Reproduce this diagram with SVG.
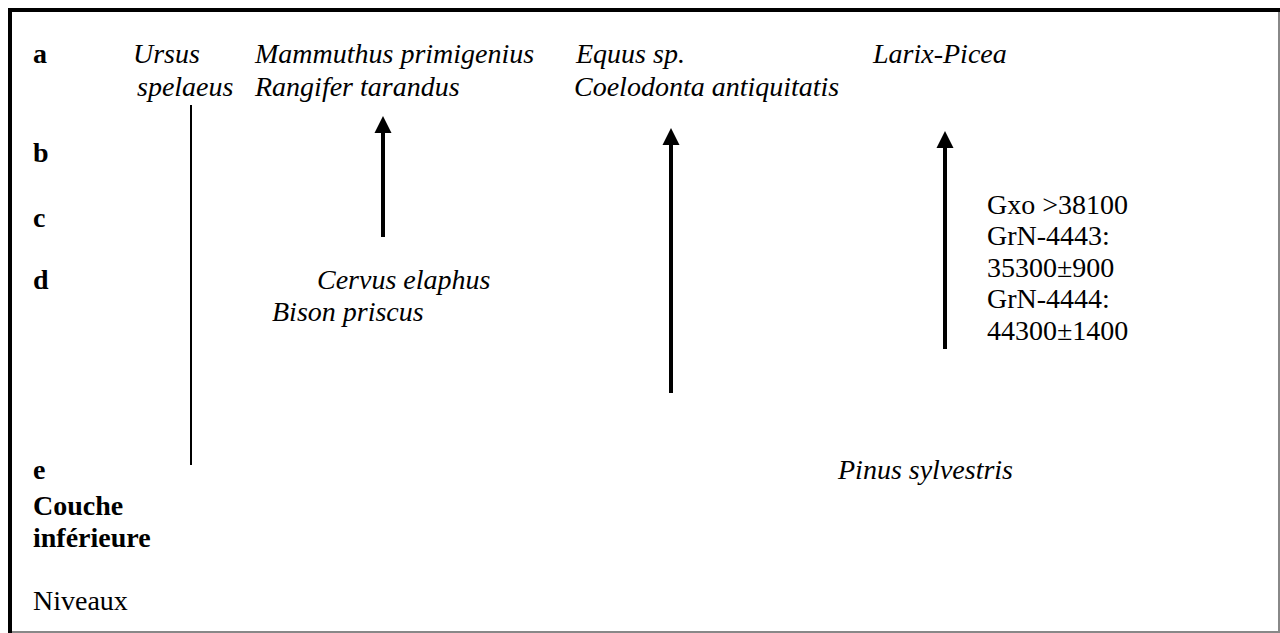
<svg xmlns="http://www.w3.org/2000/svg" width="1280" height="633" viewBox="0 0 1280 633">
<defs>
<style>
text{font-family:'Liberation Serif','Times New Roman',Times,serif;font-size:28px;fill:#000}
.b{font-weight:bold}
.i{font-style:italic}
.shaft{stroke:#000;stroke-width:4;fill:none}
</style>
</defs>
<rect x="0" y="0" width="1280" height="633" fill="#fff"/>
<g id="frame">
<line x1="8" y1="10" x2="1280" y2="10" stroke="#000" stroke-width="4"/>
<line x1="10" y1="8" x2="10" y2="633" stroke="#000" stroke-width="4"/>
<line x1="1279" y1="12" x2="1279" y2="633" stroke="#888" stroke-width="2"/>
<line x1="12" y1="632" x2="1280" y2="632" stroke="#888" stroke-width="2"/>
</g>
<g id="levels">
<text class="b" x="33" y="63">a</text>
<text class="b" x="33" y="162">b</text>
<text class="b" x="33" y="227">c</text>
<text class="b" x="33" y="289">d</text>
<text class="b" x="33" y="479">e</text>
<text class="b" x="33" y="515">Couche</text>
<text class="b" x="33" y="547">inférieure</text>
<text x="33" y="610">Niveaux</text>
</g>
<g id="ursus"><text class="i" x="133" y="63">Ursus</text><text class="i" x="137" y="96">spelaeus</text></g>
<g id="mammuthus"><text class="i" x="255" y="63">Mammuthus primigenius</text><text class="i" x="255" y="96">Rangifer tarandus</text></g>
<g id="equus"><text class="i" x="576" y="63">Equus sp.</text><text class="i" x="574" y="96">Coelodonta antiquitatis</text></g>
<g id="larix"><text class="i" x="873" y="63">Larix-Picea</text></g>
<g id="cervus"><text class="i" x="317" y="289">Cervus elaphus</text><text class="i" x="272" y="321">Bison priscus</text></g>
<g id="pinus"><text class="i" x="838" y="479">Pinus sylvestris</text></g>
<g id="dates">
<text x="987" y="214">Gxo &gt;38100</text>
<text x="987" y="245">GrN-4443:</text>
<text x="987" y="277">35300±900</text>
<text x="987" y="308">GrN-4444:</text>
<text x="987" y="340">44300±1400</text>
</g>
<g id="connectors">
<line x1="191" y1="105" x2="191" y2="465" stroke="#000" stroke-width="2"/>
<line class="shaft" x1="383" y1="237" x2="383" y2="133"/>
<path d="M374.5,133 L383,116 L391.5,133 Z"/>
<line class="shaft" x1="671" y1="393" x2="671" y2="145"/>
<path d="M662.5,145 L671,128 L679.5,145 Z"/>
<line class="shaft" x1="945" y1="349" x2="945" y2="148"/>
<path d="M936.5,148 L945,131 L953.5,148 Z"/>
</g>
</svg>
